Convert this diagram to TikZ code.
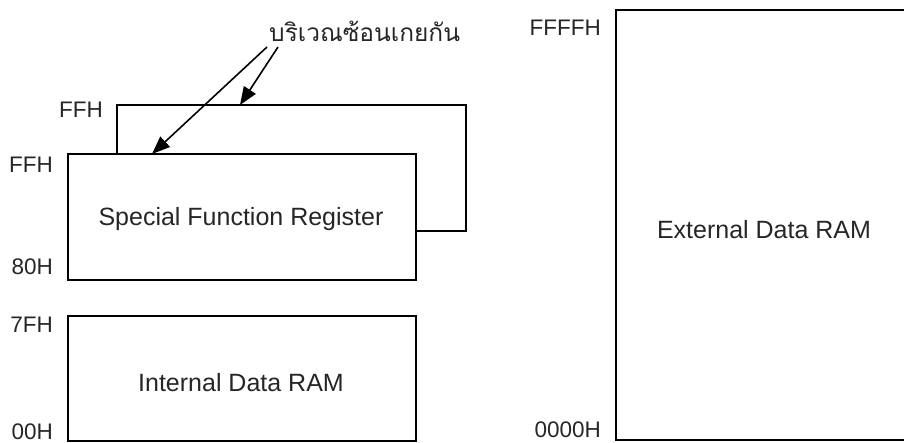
\documentclass[tikz,border=0pt]{standalone}
\usepackage{fontspec}
\setmainfont{Liberation Sans}
\newfontfamily\thaifont[Script=Thai]{Loma}
\usetikzlibrary{arrows.meta}
\begin{document}
\begin{tikzpicture}[x=1pt,y=-1pt,
  box/.style={draw=black,line width=1.6pt},
  lbl/.style={anchor=east,inner sep=0pt,font=\fontsize{22.5}{26}\selectfont,text=black!85},
  boxtext/.style={inner sep=0pt,font=\fontsize{25}{29}\selectfont,text=black!85},
  ptr/.style={line width=1.6pt,-{Triangle[length=18pt,width=14pt]}}]
\useasboundingbox (0,0) rectangle (904,443);
% back SFR outline (open path)
\coordinate (bl) at (117,154);
\coordinate (bt) at (240,105);
\draw[box] (bl) -- (117,105) -- (466,105) -- (466,231) -- (416,231);
% front SFR box
\draw[box] (68,154) rectangle (416,280);
\coordinate (ft) at (152,154);
\node[boxtext] (sfr) at (241,219) {Special Function Register};
% internal RAM
\draw[box] (68,316) rectangle (416,441);
\node[boxtext] (iram) at (241,383) {Internal Data RAM};
% external RAM (right edge beyond picture)
\draw[box] (910,10) -- (616,10) -- (616,440) -- (910,440);
\node[boxtext] (xram) at (764,230) {External Data RAM};
% address labels
\node[lbl] (ffh1) at (103,110) {FFH};
\node[lbl] (ffh2) at (53,165) {FFH};
\node[lbl] (h80) at (53,267) {80H};
\node[lbl] (h7f) at (53,325) {7FH};
\node[lbl] (h00) at (53,432) {00H};
\node[lbl] (hffff) at (601,28) {FFFFH};
\node[lbl] (h0000) at (601,430) {0000H};
% Thai label and arrows
\node[inner sep=0pt,anchor=west,font=\thaifont\fontsize{24.5}{28}\selectfont,text=black!85] (thai) at (269,31) {บริเวณซ้อนเกยกัน};
\coordinate (s1) at (267,47);
\coordinate (s2) at (278,47);
\draw[ptr] (s1) -- (ft);
\draw[ptr] (s2) -- (bt);
\end{tikzpicture}
\end{document}
